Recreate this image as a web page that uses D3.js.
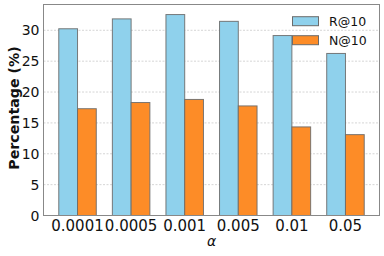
<!DOCTYPE html>
<html><head><meta charset="utf-8">
<script src="https://cdn.jsdelivr.net/npm/d3@7"></script>
<style>body{margin:0;background:#fff}svg{display:block}</style>
</head><body>
<script>
const categories = ["0.0001","0.0005","0.001","0.005","0.01","0.05"];
const recall = [30.25, 31.85, 32.55, 31.45, 29.15, 26.25];
const ndcg = [17.3, 18.3, 18.8, 17.75, 14.35, 13.1];
const yTicks = [0,5,10,15,20,25,30];
const seriesNames = ["R@10","N@10"];
const colors = ["#8fd1ec","#fd8c27"];

const W=384,H=256;
const L=43.5,R=379.5,T=4.5,B=215.5;
const svg=d3.select("body").append("svg").attr("width",W).attr("height",H);
const x=d3.scaleLinear().domain([-0.635,categories.length-1+0.635]).range([L,R]);
const y=d3.scaleLinear().domain([0,34.18]).range([B,T]);
const bw=0.35;

svg.append("g").selectAll("line").data(yTicks).join("line")
 .attr("x1",L).attr("x2",R).attr("y1",d=>y(d)).attr("y2",d=>y(d))
 .attr("stroke","#cccccc").attr("stroke-width",0.8).attr("stroke-dasharray","2,1.5");

const series=[recall,ndcg];
series.forEach((vals,si)=>{
  svg.append("g").selectAll("rect").data(vals).join("rect")
   .attr("x",(d,i)=>x(i+(si===0?-bw:0)))
   .attr("width",x(bw)-x(0))
   .attr("y",d=>y(d)).attr("height",d=>y(0)-y(d))
   .attr("fill",colors[si]).attr("stroke","#6b6b6b").attr("stroke-opacity",0.9).attr("stroke-width",1);
});

svg.append("rect").attr("x",L).attr("y",T).attr("width",R-L).attr("height",B-T)
 .attr("fill","none").attr("stroke","#888").attr("stroke-width",1);

const font="DejaVu Sans";
svg.append("g").selectAll("text").data(yTicks).join("text")
 .attr("x",L-4).attr("y",d=>y(d)).attr("dy","0.36em").attr("text-anchor","end")
 .attr("font-family",font).attr("font-size",14).attr("fill","#111").text(d=>d);
svg.append("g").selectAll("text").data(categories).join("text")
 .attr("x",(d,i)=>x(i)).attr("y",B+15.5).attr("text-anchor","middle")
 .attr("font-family",font).attr("font-size",15).attr("fill","#111").text(d=>d);

svg.append("text").attr("transform",`translate(19,108) rotate(-90)`)
 .attr("text-anchor","middle").attr("font-family",font).attr("font-weight","bold")
 .attr("font-size",14.2).attr("fill","#111").text("Percentage (%)");
svg.append("text").attr("x",(L+R)/2).attr("y",246).attr("text-anchor","middle")
 .attr("font-family",font).attr("font-style","italic").attr("font-size",14).attr("fill","#111").text("α");

const lg=svg.append("g");
seriesNames.forEach((n,i)=>{
  const yy=16.7+i*19;
  lg.append("rect").attr("x",292.5).attr("y",yy).attr("width",26).attr("height",9)
   .attr("fill",colors[i]).attr("stroke","#6b6b6b").attr("stroke-width",1);
  lg.append("text").attr("x",329).attr("y",yy+4.5).attr("dy","0.36em")
   .attr("font-family",font).attr("font-size",12.5).attr("fill","#111").text(n);
});
</script>
</body></html>
